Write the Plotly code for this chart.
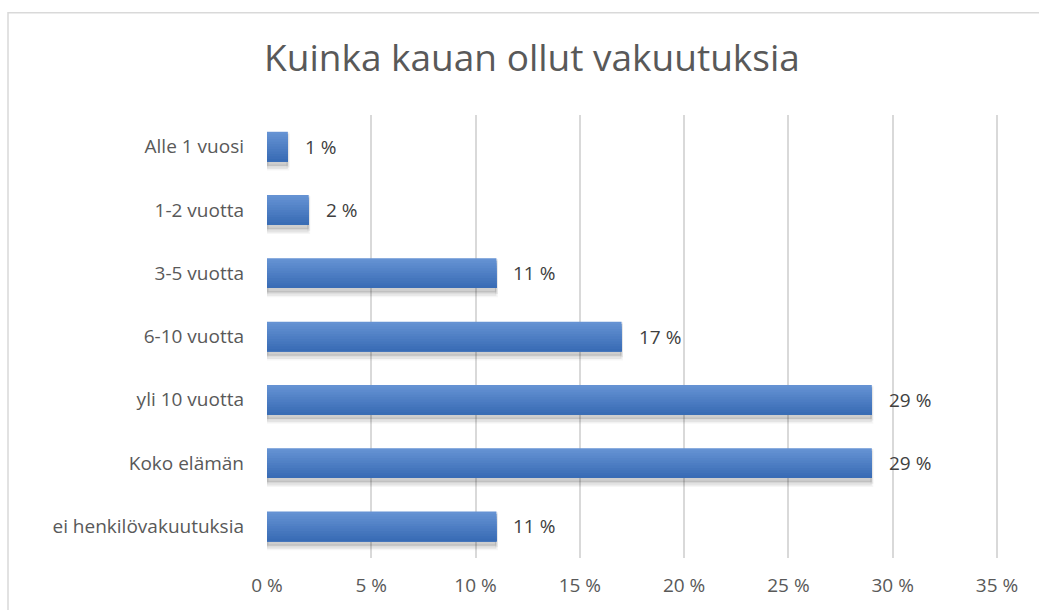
import plotly.graph_objects as go

categories = ["Alle 1 vuosi", "1-2 vuotta", "3-5 vuotta", "6-10 vuotta",
              "yli 10 vuotta", "Koko elämän", "ei henkilövakuutuksia"]
values = [1, 2, 11, 17, 29, 29, 11]
tick_values = [0, 5, 10, 15, 20, 25, 30, 35]
tick_labels = ["0 %", "5 %", "10 %", "15 %", "20 %", "25 %", "30 %", "35 %"]

bar_w = 0.47
fig = go.Figure()

# soft shadow under the bars
for extra, alpha in [(0.12, 0.07), (0.07, 0.13)]:
    fig.add_trace(go.Bar(
        x=values, y=categories, orientation="h",
        width=bar_w + extra / 2, offset=-bar_w / 2 + extra / 2,
        marker=dict(color="rgba(0,0,0,%s)" % alpha,
                    line=dict(width=3, color="rgba(0,0,0,%s)" % (alpha / 2))),
        hoverinfo="skip", showlegend=False))

# vertical gradient: each band runs from its start to the bar bottom, so no gaps
n_bands = 12
top = (101, 146, 211)
bottom = (57, 108, 181)
for i in range(n_bands):
    t = i / (n_bands - 1)
    c = tuple(round(top[k] + (bottom[k] - top[k]) * t) for k in range(3))
    fig.add_trace(go.Bar(
        x=values, y=categories, orientation="h",
        width=bar_w - i * bar_w / n_bands, offset=-bar_w / 2 + i * bar_w / n_bands,
        marker=dict(color="rgb(%d,%d,%d)" % c, line=dict(width=0)),
        hoverinfo="skip", showlegend=False))

for v, c in zip(values, categories):
    fig.add_annotation(x=v, y=c, text="%d %%" % v, showarrow=False,
                       xanchor="left", xshift=15,
                       font=dict(size=19, color="#404040"))

fig.add_shape(type="rect", xref="paper", yref="paper",
              x0=-0.3543, x1=1.3, y0=-0.4, y1=1.231,
              line=dict(color="#d9d9d9", width=1.5), layer="below")

fig.update_layout(
    title=dict(text="Kuinka kauan ollut vakuutuksia", x=0.512, xref="container",
               y=0.905, yanchor="middle",
               font=dict(family="Open Sans", size=37, color="#595959")),
    barmode="overlay",
    width=1039, height=610,
    margin=dict(l=267, r=41, t=115, b=49),
    paper_bgcolor="white", plot_bgcolor="white",
    font=dict(family="Open Sans", size=19, color="#595959"),
)
fig.update_xaxes(range=[0, 35.05], tickvals=tick_values, ticktext=tick_labels,
                 showgrid=True, gridcolor="#d9d9d9", gridwidth=1.5,
                 zeroline=False, showline=False, ticks="", ticklabelstandoff=14)
fig.update_yaxes(categoryorder="array", categoryarray=categories, autorange="reversed",
                 showgrid=False, zeroline=False, showline=False, ticks="",
                 ticklabelstandoff=22)

fig.write_html("out.html", config={"displayModeBar": False},
               post_script="document.body.style.margin='0';")
